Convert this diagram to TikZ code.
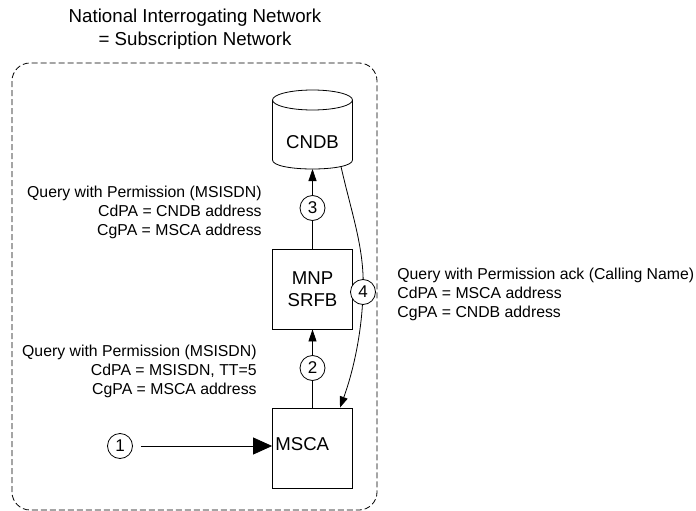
\documentclass[tikz,border=0pt]{standalone}
\usepackage{fontspec}
\setmainfont{Liberation Sans}
\usetikzlibrary{arrows.meta}
\begin{document}
\begin{tikzpicture}[x=1pt,y=-1pt, line width=0.8pt,
  box/.style={draw, minimum width=80pt, minimum height=80pt, inner sep=0pt, font=\fontsize{18.6}{22}\selectfont, align=center},
  num/.style={draw, circle, fill=white, minimum size=25pt, inner sep=0pt, font=\fontsize{17}{19}\selectfont},
  lbl/.style={inner sep=0pt, font=\fontsize{15.8}{19}\selectfont},
  nodetext/.style={inner sep=0pt, font=\fontsize{18.6}{22}\selectfont},
  smalltip/.style={-{Triangle[length=12pt,width=8pt]}},
  bigtip/.style={-{Triangle[length=19pt,width=17pt]}},
  curvetip/.style={-{Triangle[length=11pt,width=8pt]}},
  region/.style={dash pattern=on 6pt off 3pt, rounded corners=18pt}]
\useasboundingbox (0,0) rectangle (696,511);
\draw[region] (12,63) rectangle (377,510);
\node[font=\fontsize{18.7}{23}\selectfont, align=center] (title) at (195,29) {National Interrogating Network\\= Subscription Network};
% CNDB cylinder
\draw[fill=white] (272.5,100) -- (272.5,160) .. controls (272.5,172) and (352.5,172) .. (352.5,160) -- (352.5,100);
\draw (312.5,100) ellipse [x radius=40pt, y radius=10pt];
\node[nodetext] (cndb) at (312.5,142) {CNDB};
\coordinate (cndbbot) at (312.5,169);
\coordinate (cndbright) at (341,166.6);
% boxes
\node[box] (mnp) at (312.5,289) {MNP\\SRFB};
\node[box] (msca) at (312.5,448) {};
\node[nodetext, anchor=west] (mscatext) at (275,444) {MSCA};
% arrows
\draw[smalltip] (mnp.north) -- (cndbbot);
\node[num] (n3) at (312.5,208) {3};
\draw[smalltip] (msca.north) -- (mnp.south);
\node[num] (n2) at (312.5,368) {2};
\node[num] (n1) at (120,446) {1};
\draw[bigtip] ([xshift=8pt]n1.east) -- (n1 -| msca.west);
\coordinate (p4) at (363,292);
\coordinate (m4) at ([xshift=27.5pt]msca.north);
\draw[curvetip] (cndbright) .. controls (352,215) and (365,250) .. (p4) .. controls (362,335) and (352,375) .. (m4);
\node[num] (n4) at (p4) {4};
% labels
\node[lbl, align=right, anchor=east] (l3) at (262,212) {Query with Permission (MSISDN)\\CdPA = CNDB address\\CgPA = MSCA address};
\node[lbl, align=right, anchor=east] (l2) at (257,371) {Query with Permission (MSISDN)\\CdPA = MSISDN, TT=5\\CgPA = MSCA address};
\node[lbl, align=left, anchor=west] (l4) at (397,294) {Query with Permission ack (Calling Name)\\CdPA = MSCA address\\CgPA = CNDB address};
\end{tikzpicture}
\end{document}
